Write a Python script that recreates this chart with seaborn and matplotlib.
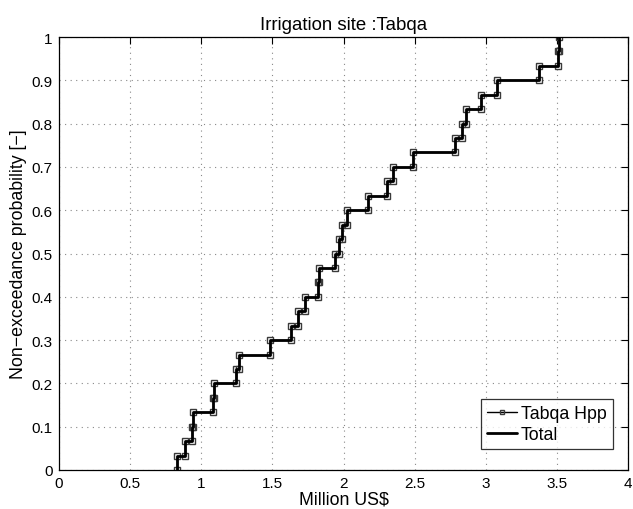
import numpy as np
import pandas as pd
import matplotlib
matplotlib.use("Agg")
import matplotlib.pyplot as plt
import seaborn as sns

# sorted sample values (Million US$) at which the empirical CDF steps
step_x = [0.827, 0.886, 0.935, 0.945, 1.080, 1.090, 1.245, 1.268, 1.483, 1.629,
          1.681, 1.729, 1.818, 1.828, 1.940, 1.971, 1.987, 2.027, 2.175, 2.303,
          2.350, 2.491, 2.784, 2.835, 2.861, 2.964, 3.077, 3.377, 3.506, 3.515]
n = len(step_x)
levels = [k / n for k in range(n + 1)]

xs, ys = [], []
for i, xv in enumerate(step_x):
    xs += [xv, xv]
    ys += [levels[i], levels[i + 1]]
df = pd.DataFrame({"x": xs, "y": ys})

x_ticks = [0, 0.5, 1, 1.5, 2, 2.5, 3, 3.5, 4]
x_tick_labels = ["0", "0.5", "1", "1.5", "2", "2.5", "3", "3.5", "4"]
y_ticks = [0, 0.1, 0.2, 0.3, 0.4, 0.5, 0.6, 0.7, 0.8, 0.9, 1.0]
y_tick_labels = ["0", "0.1", "0.2", "0.3", "0.4", "0.5", "0.6", "0.7", "0.8", "0.9", "1"]

sns.set_style("white")
plt.rcParams["font.family"] = ["Liberation Sans", "DejaVu Sans"]
plt.rcParams["text.color"] = "black"
plt.rcParams["axes.labelcolor"] = "black"
plt.rcParams["xtick.color"] = "black"
plt.rcParams["ytick.color"] = "black"
TICK_FS = 11
LABEL_FS = 12.8
TITLE_FS = 13.4
plt.rcParams["font.size"] = TICK_FS

fig = plt.figure(figsize=(6.33, 5.10), dpi=100)
ax = fig.add_axes([59 / 633, 39 / 510, (628 - 59) / 633, (471 - 38) / 510])

sns.lineplot(data=df, x="x", y="y", sort=False, estimator=None, ax=ax,
             color="black", linewidth=1.0, marker="s", markersize=5.0,
             markerfacecolor="none", markeredgecolor="#3a3a3a",
             markeredgewidth=1.0, label="Tabqa Hpp")
sns.lineplot(data=df, x="x", y="y", sort=False, estimator=None, ax=ax,
             color="black", linewidth=2.0, label="Total")

ax.set_xlim(0, 4)
ax.set_ylim(0, 1)
ax.set_xticks(x_ticks)
ax.set_xticklabels(x_tick_labels)
ax.set_yticks(y_ticks)
ax.set_yticklabels(y_tick_labels)
ax.grid(True, linestyle=(0, (1, 4)), color="#888888", linewidth=0.8)
ax.tick_params(direction="in", top=True, right=True, length=5, width=0.8,
               colors="black", labelcolor="black", labelsize=TICK_FS, pad=4.5)
for s in ax.spines.values():
    s.set_color("black")
    s.set_linewidth(0.9)

ax.set_title("Irrigation site :Tabqa", fontsize=TITLE_FS, pad=6, color="black")
ax.set_xlabel(r"Million US\$", fontsize=LABEL_FS, labelpad=0.5, color="black")
ax.set_ylabel("Non\u2212exceedance probability [\u2212]", fontsize=LABEL_FS,
              labelpad=3, color="black")

leg = ax.legend(loc="lower right", bbox_to_anchor=((613 - 59) / 569, (471 - 450) / 433),
                borderaxespad=0, frameon=True, fancybox=False,
                edgecolor="black", fontsize=LABEL_FS, labelcolor="black",
                handlelength=1.7, handletextpad=0.2, borderpad=0.35, labelspacing=0.22)
leg.get_frame().set_linewidth(0.9)
for h in leg.legend_handles:
    h.set_markersize(3.5)

fig.savefig("out.png", dpi=100, facecolor="white")
